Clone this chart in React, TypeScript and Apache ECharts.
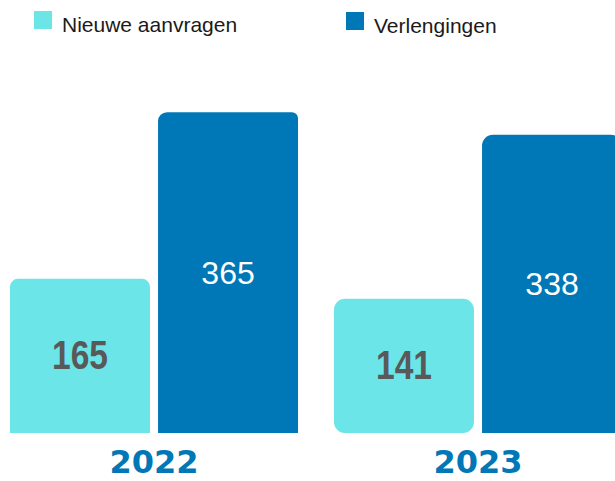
import React, { useEffect, useRef } from "react";
import * as echarts from "echarts";

const years = ["2022", "2023"];
const seriesNames = ["Nieuwe aanvragen", "Verlengingen"];
const nieuweAanvragen = [165, 141];
const verlengingen = [365, 338];

const colors = ["#6BE5E8", "#0077B6"];
const labelColors = ["#595959", "#FFFFFF"];
// corner radii per series per category [tl, tr, br, bl]
const cornerRadii = [
  [[8, 8, 0, 0], [11, 11, 11, 11]],
  [[9, 6, 0, 0], [11, 11, 0, 0]],
];
const Y_MIN = -20;

function makeRender(seriesIndex: number) {
  return (params: any, api: any) => {
    const cat = api.value(0);
    const val = api.value(1);
    const top = api.coord([cat, val]);
    const bottom = api.coord([cat, Y_MIN]);
    const band = api.size([1, 0])[0];
    const barW = band * 0.432;
    const gap = band * 0.025;
    const x = seriesIndex === 0 ? top[0] - gap / 2 - barW : top[0] + gap / 2;
    const y = top[1];
    const h = bottom[1] - top[1];
    const r = cornerRadii[seriesIndex][params.dataIndex];
    const isFirst = seriesIndex === 0;
    const cx = x + barW / 2;
    const cy = y + h / 2;
    return {
      type: "group",
      children: [
        {
          type: "rect",
          shape: { x, y, width: barW, height: h, r },
          style: { fill: colors[seriesIndex] },
        },
        {
          type: "text",
          x: cx,
          y: cy,
          scaleX: isFirst ? 0.84 : 1,
          style: {
            text: String(val),
            fill: labelColors[seriesIndex],
            fontSize: isFirst ? 40 : 32,
            fontWeight: isFirst ? "bold" : "normal",
            fontFamily: '"Liberation Sans", Arial, sans-serif',
            align: "center",
            verticalAlign: "middle",
          },
        },
      ],
    };
  };
}

export default function App() {
  const ref = useRef<HTMLDivElement>(null);
  useEffect(() => {
    document.body.style.margin = "0";
    document.body.style.overflow = "hidden";
    if (!ref.current) return;
    const chart = echarts.init(ref.current, undefined, { renderer: "svg" });
    const legendText = {
      fontSize: 21,
      fontFamily: '"Liberation Sans", Arial, sans-serif',
      color: "#1a1a1a",
      padding: [0, 0, 0, 5],
      rich: {
        t: {
          fontSize: 21,
          fontFamily: '"Liberation Sans", Arial, sans-serif',
          color: "#1a1a1a",
          padding: [8, 0, 0, 0],
        },
      },
    };
    chart.setOption({
      animation: false,
      backgroundColor: "#ffffff",
      legend: [
        {
          data: [seriesNames[0]],
          left: 37,
          top: 6,
          icon: "rect",
          itemWidth: 18,
          itemHeight: 18,
          formatter: "{t|{name}}",
          textStyle: legendText,
          selectedMode: false,
        },
        {
          data: [seriesNames[1]],
          left: 349,
          top: 7,
          icon: "rect",
          itemWidth: 18,
          itemHeight: 18,
          formatter: "{t|{name}}",
          textStyle: legendText,
          selectedMode: false,
        },
      ],
      grid: { left: 0, right: 0, top: 83, bottom: 48, containLabel: false },
      xAxis: {
        type: "category",
        data: years,
        axisLine: { show: false },
        axisTick: { show: false },
        axisLabel: {
          color: "#0077B6",
          fontSize: 32,
          fontWeight: "bold",
          fontFamily: '"DejaVu Sans", Verdana, sans-serif',
          margin: 13,
        },
      },
      yAxis: {
        type: "value",
        min: Y_MIN,
        max: 400,
        show: false,
        splitLine: { show: false },
      },
      series: [
        {
          name: seriesNames[0],
          type: "custom",
          renderItem: makeRender(0),
          itemStyle: { color: colors[0] },
          data: years.map((_, i) => [i, nieuweAanvragen[i]]),
          encode: { x: 0, y: 1 },
          clip: false,
        },
        {
          name: seriesNames[1],
          type: "custom",
          renderItem: makeRender(1),
          itemStyle: { color: colors[1] },
          data: years.map((_, i) => [i, verlengingen[i]]),
          encode: { x: 0, y: 1 },
          clip: false,
        },
      ],
    });
    return () => chart.dispose();
  }, []);
  return (
    <div style={{ width: 615, height: 481, overflow: "hidden", position: "relative" }}>
      <div ref={ref} style={{ width: 648, height: 481, position: "absolute", left: -8, top: 0 }} />
    </div>
  );
}
